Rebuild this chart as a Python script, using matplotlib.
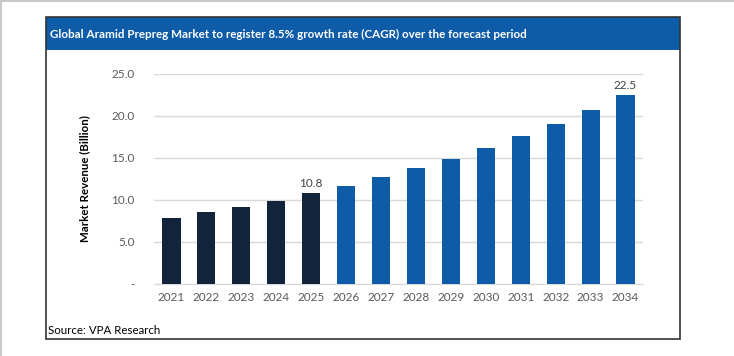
import numpy as np
import matplotlib.pyplot as plt
from matplotlib.patches import Rectangle
from matplotlib.lines import Line2D

years = ['2021', '2022', '2023', '2024', '2025', '2026', '2027',
         '2028', '2029', '2030', '2031', '2032', '2033', '2034']
revenue = [7.9, 8.6, 9.2, 9.9, 10.8, 11.7, 12.7,
           13.8, 14.9, 16.2, 17.6, 19.1, 20.7, 22.5]
n_hist = 5  # 2021-2025 drawn dark
yticks = [0, 5, 10, 15, 20, 25]
ytick_labels = ['-', '5.0', '10.0', '15.0', '20.0', '25.0']
labelled = ['2025', '2034']

title = 'Global Aramid Prepreg Market to register 8.5% growth rate (CAGR) over the forecast period'
source = 'Source: VPA Research'

dark = '#12233c'
blue = '#0e5ca8'
grey_txt = '#595959'

plt.rcParams['font.family'] = ['Lato', 'DejaVu Sans']

W, H = 734, 356
fig = plt.figure(figsize=(W/100, H/100), dpi=100)

# outer page edges
fig.add_artist(Line2D([0, 1], [1 - 0.8/H, 1 - 0.8/H], color='#c8c8c8', lw=1.5, transform=fig.transFigure))
fig.add_artist(Line2D([1.5/W, 1.5/W], [0, 1], color='#c8c8c8', lw=1.5, transform=fig.transFigure))

# chart frame
fx0, fx1, fy0, fy1 = 45.5/W, 680/W, 1 - 338.5/H, 1 - 17/H
fig.add_artist(Rectangle((fx0, fy0), fx1 - fx0, fy1 - fy0, fill=False,
                         ec='#333333', lw=1.2, transform=fig.transFigure, zorder=5))
band_h = (50 - 17)/H
fig.add_artist(Rectangle((fx0, fy1 - band_h), fx1 - fx0, band_h, fc=blue,
                         ec='none', transform=fig.transFigure, zorder=4))
fig.text(50/W, 1 - 34/H, title, color='white', fontsize=8.4, fontweight='bold',
         va='center', ha='left', zorder=6)
fig.text(48/W, 1 - 330/H, source, color='black', fontsize=8.3, va='center', ha='left')

ax = fig.add_axes([154/W, 1 - 284/H, (643 - 154)/W, (284 - 74)/H])
x = np.arange(len(years))
colors = [dark if i < n_hist else blue for i in range(len(years))]
ax.bar(x, revenue, width=0.52, color=colors, zorder=3)

for i, y in enumerate(years):
    if y in labelled:
        ax.text(x[i], revenue[i] + 0.5, f'{revenue[i]:.1f}', ha='center', va='bottom',
                fontsize=8.5, color='#404040')

ax.set_xlim(-0.5, len(years) - 0.5)
ax.set_ylim(0, 25)
ax.set_yticks(yticks)
ax.set_yticklabels(ytick_labels)
ax.set_xticks(x)
ax.set_xticklabels(years)
ax.tick_params(axis='both', length=0, labelsize=8.5, colors=grey_txt)
ax.tick_params(axis='y', pad=14)
ax.tick_params(axis='x', pad=6)
ax.grid(axis='y', color='#d9d9d9', lw=1, zorder=0)
for s in ['top', 'right', 'left']:
    ax.spines[s].set_visible(False)
ax.spines['bottom'].set_color('#d9d9d9')
ax.set_ylabel('Market Revenue (Billion)', fontsize=8.3, fontweight='bold', color='black', labelpad=15)

fig.savefig('out.png', dpi=100)
